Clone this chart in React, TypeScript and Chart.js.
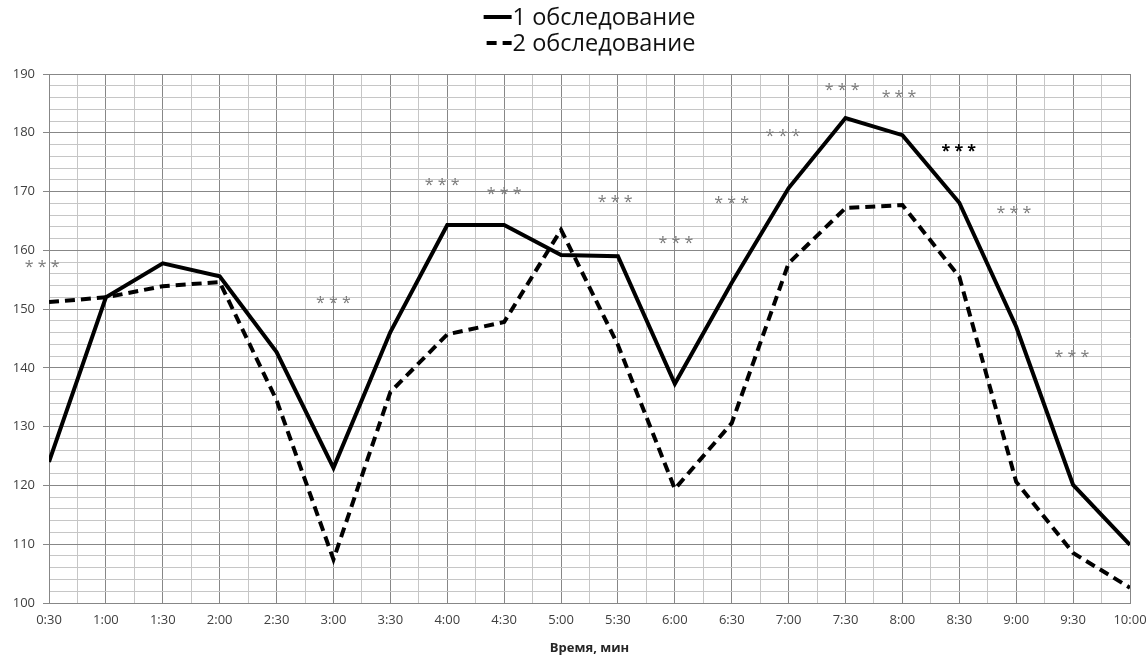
import React, { useEffect, useRef } from 'react';
import { Chart, registerables } from 'chart.js';

Chart.register(...registerables);

const timeLabels = ['0:30', '1:00', '1:30', '2:00', '2:30', '3:00', '3:30', '4:00', '4:30', '5:00', '5:30', '6:00', '6:30', '7:00', '7:30', '8:00', '8:30', '9:00', '9:30', '10:00'];
const series1Label = '1 обследование';
const series2Label = '2 обследование';
const series1 = [124, 152, 157.8, 155.6, 142.7, 123, 146.1, 164.3, 164.3, 159.2, 159, 137.3, 154.5, 170.6, 182.5, 179.6, 168.1, 147, 120.1, 109.9];
const series2 = [151.2, 152, 153.9, 154.6, 134.5, 107.4, 135.9, 145.7, 147.8, 163.5, 143.9, 119.4, 130.6, 157.8, 167.2, 167.7, 155.5, 120.6, 108.5, 102.6];
const yMin = 100;
const yMax = 190;
const yMinorStep = 2;
const yMajorStep = 10;
const xTitle = 'Время, мин';
const markText = '* * *';
const markIndex = [-0.12, 5.0, 6.91, 8.0, 9.95, 11.02, 12.0, 12.9, 13.94, 14.94, 15.99, 16.96, 17.98];
const markValue = [157.8, 151.7, 171.8, 170.3, 168.9, 161.9, 168.7, 180.1, 188.0, 186.8, 177.6, 167.0, 142.5];
const markStrong = [false, false, false, false, false, false, false, false, false, false, true, false, false];

const MAJOR = '#878787';
const MINOR = '#c6c6c6';
const FONT = '"Open Sans", "Noto Sans", sans-serif';

const legendPlugin = {
  id: 'twoRowLegend',
  afterDraw(chart: any) {
    const ctx = chart.ctx;
    const area = chart.chartArea;
    ctx.save();
    ctx.font = `23.5px ${FONT}`;
    const lineLen = 28;
    const gap = 1;
    const widths = chart.data.datasets.map((d: any) => ctx.measureText(d.label).width);
    const maxW = Math.max(...widths);
    const x0 = (area.left + area.right) / 2 - (lineLen + gap + maxW) / 2;
    chart.data.datasets.forEach((d: any, i: number) => {
      const y = 17 + i * 26;
      ctx.beginPath();
      ctx.setLineDash(d.borderDash || []);
      ctx.lineWidth = 4;
      ctx.strokeStyle = d.borderColor;
      ctx.moveTo(x0 + (d.borderDash ? 3 : 0), y);
      ctx.lineTo(x0 + lineLen, y);
      ctx.stroke();
      ctx.setLineDash([]);
      ctx.fillStyle = '#111';
      ctx.textBaseline = 'middle';
      ctx.textAlign = 'left';
      ctx.fillText(d.label, x0 + lineLen + gap, y + 1);
    });
    ctx.restore();
  },
};

const marksPlugin = {
  id: 'significanceMarks',
  afterDatasetsDraw(chart: any) {
    const ctx = chart.ctx;
    const xs = chart.scales.x;
    const ys = chart.scales.y;
    ctx.save();
    ctx.textAlign = 'center';
    ctx.textBaseline = 'alphabetic';
    markIndex.forEach((idx, i) => {
      const px = xs.getPixelForValue(idx);
      const py = ys.getPixelForValue(markValue[i]);
      const size = 16;
      ctx.font = `${markStrong[i] ? 'bold ' : ''}${size}px ${FONT}`;
      ctx.fillStyle = markStrong[i] ? '#000' : '#7a7a7a';
      ctx.fillText(markText, px, py + size * 0.56);
    });
    ctx.restore();
  },
};

export default function App() {
  const canvasRef = useRef<HTMLCanvasElement>(null);

  useEffect(() => {
    if (!canvasRef.current) return;
    const chart = new Chart(canvasRef.current, {
      type: 'line',
      data: {
        datasets: [
          {
            label: series1Label,
            data: series1.map((v, i) => ({ x: i, y: v })),
            borderColor: '#000',
            borderWidth: 4,
            pointRadius: 0,
            tension: 0,
            fill: false,
          },
          {
            label: series2Label,
            data: series2.map((v, i) => ({ x: i, y: v })),
            borderColor: '#000',
            borderWidth: 4,
            borderDash: [10, 6],
            pointRadius: 0,
            tension: 0,
            fill: false,
          },
        ],
      },
      options: {
        animation: false,
        responsive: true,
        maintainAspectRatio: false,
        layout: { padding: { top: 74, right: 18, bottom: 0, left: 0 } },
        plugins: {
          legend: { display: false },
          tooltip: { enabled: false },
        },
        scales: {
          x: {
            type: 'linear',
            min: 0,
            max: timeLabels.length - 1,
            afterFit: (scale: any) => {
              scale.height = 56;
              scale.paddingRight = 0;
              scale.paddingLeft = 0;
            },
            ticks: {
              stepSize: 0.5,
              autoSkip: false,
              maxRotation: 0,
              padding: 9,
              color: '#404040',
              font: { family: FONT, size: 13 },
              callback: (v: any) => (Number.isInteger(v) ? timeLabels[v] : ''),
            },
            grid: {
              drawTicks: false,
              color: (c: any) => (c.tick && Number.isInteger(c.tick.value) ? MAJOR : MINOR),
              lineWidth: 1,
            },
            border: { color: MAJOR, width: 1 },
            title: {
              display: true,
              text: xTitle,
              color: '#262626',
              font: { family: FONT, size: 13, weight: 'bold' },
              padding: { top: 0, bottom: 3 },
            },
          },
          y: {
            type: 'linear',
            min: yMin,
            max: yMax,
            afterFit: (scale: any) => { scale.width = 49; },
            ticks: {
              stepSize: yMinorStep,
              autoSkip: false,
              padding: 8,
              color: '#404040',
              font: { family: FONT, size: 13 },
              callback: (v: any) => (v % yMajorStep === 0 ? String(v) : ''),
            },
            grid: {
              color: (c: any) => (c.tick && c.tick.value % yMajorStep === 0 ? MAJOR : MINOR),
              tickColor: (c: any) => (c.tick && c.tick.value % yMajorStep === 0 ? MAJOR : 'rgba(0,0,0,0)'),
              tickLength: 6,
              lineWidth: 1,
            },
            border: { color: MAJOR, width: 1 },
          },
        },
      },
      plugins: [legendPlugin, marksPlugin],
    });
    return () => chart.destroy();
  }, []);

  return (
    <div style={{ position: 'absolute', left: 0, top: 0, width: 1148, height: 659, background: '#fff' }}>
      <canvas ref={canvasRef} />
    </div>
  );
}
